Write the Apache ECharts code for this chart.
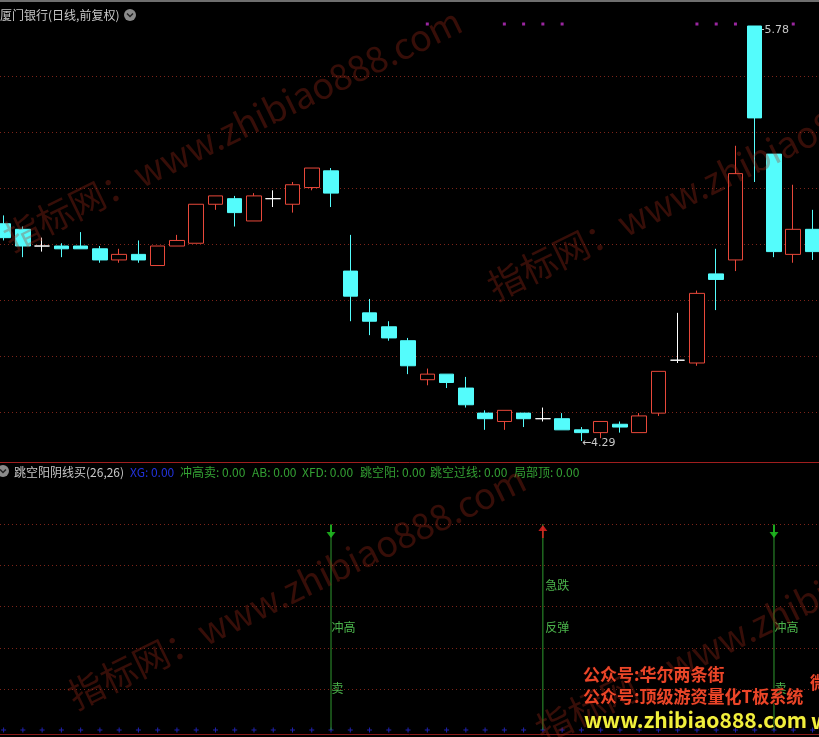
<!DOCTYPE html>
<html><head><meta charset="utf-8">
<script src="https://cdn.jsdelivr.net/npm/echarts@6/dist/echarts.min.js"></script>
<style>html,body{margin:0;padding:0;background:#000;}#c{width:819px;height:737px;}</style>
</head><body><div id="c"></div>
<script>
// ---- data ----
const categories = Array.from({length: 43}, (_, i) => 'D' + (i + 1));
const openP  = [5.07,5.05,4.99,4.99,4.99,4.98,4.94,4.96,4.92,4.99,5.00,5.14,5.16,5.08,5.16,5.14,5.20,5.26,4.90,4.75,4.70,4.65,4.51,4.53,4.48,4.39,4.36,4.39,4.37,4.37,4.33,4.32,4.35,4.32,4.39,4.58,4.57,4.89,4.94,5.78,5.32,4.96,5.05];
const closeP = [5.02,4.99,4.99,4.98,4.98,4.94,4.96,4.94,4.99,5.01,5.14,5.17,5.11,5.17,5.16,5.21,5.27,5.18,4.81,4.72,4.66,4.56,4.53,4.50,4.42,4.37,4.40,4.37,4.37,4.33,4.32,4.36,4.34,4.38,4.54,4.58,4.82,4.87,5.25,5.45,4.97,5.05,4.97];
const lowP   = [5.01,4.95,4.97,4.95,4.98,4.93,4.93,4.93,4.92,4.99,5.00,5.12,5.06,5.08,5.13,5.11,5.19,5.13,4.72,4.67,4.65,4.53,4.49,4.48,4.41,4.33,4.33,4.34,4.36,4.33,4.29,4.30,4.32,4.32,4.38,4.57,4.56,4.76,4.90,5.22,4.95,4.93,4.94];
const highP  = [5.10,5.06,5.02,5.00,5.04,4.99,4.98,5.01,4.99,5.03,5.14,5.17,5.17,5.18,5.19,5.22,5.27,5.27,5.03,4.80,4.72,4.66,4.55,4.53,4.52,4.40,4.40,4.39,4.41,4.39,4.34,4.36,4.36,4.39,4.54,4.75,4.83,4.98,5.35,5.78,5.32,5.21,5.12];
// purple signal dots along the top of the price panel (1 = shown)
const topDotFlags = [0,0,0,0,0,0,0,0,0,0,0,0,0,0,0,0,0,0,0,0,0,0,1,0,0,0,1,1,1,1,0,0,0,0,0,0,1,1,1,0,0,1,0];
// indicator panel values
const sellDays = [17, 40];          // 冲高卖
const buyDays = [28];               // 急跌反弹
const arrowLevel = 5;
const chongGaoLevel = 2.5, maiLevel = 1, jiDieLevel = 3.5, fanTanLevel = 2.5;
const headerItems = [
  ['跳空阳阴线买(26,26)', '#c8c8c8'], ['XG: 0.00', '#2233dd'], ['冲高卖: 0.00', '#33a033'],
  ['AB: 0.00', '#33a033'], ['XFD: 0.00', '#33a033'], ['跳空阳: 0.00', '#33a033'],
  ['跳空过线: 0.00', '#33a033'], ['局部顶: 0.00', '#33a033']
];
const headerX = [14, 130, 180, 252, 302, 360, 430, 514];

// ---- build ----
const ohlc = openP.map((o, i) => [o, closeP[i], lowP[i], highP[i]]);
const pick = (days, v) => categories.map((_, i) => days.includes(i) ? v : '-');
const allSignal = sellDays.concat(buyDays);

const chart = echarts.init(document.getElementById('c'), null, {renderer: 'canvas'});
const dotted = {show: true, lineStyle: {color: '#7c2419', type: [1, 3], width: 1}};
const hiddenAxisParts = {axisLine: {show: false}, axisTick: {show: false}, axisLabel: {show: false}};
const txtLabel = (t) => ({show: true, position: 'right', distance: 0, formatter: t, color: '#5ee05e',
  fontSize: 12, fontFamily: 'Noto Sans CJK SC'});

const wmStyle = (t) => ({text: t, fill: 'rgba(170,45,25,0.32)', font: '36px "Noto Sans CJK SC"',
  textAlign: 'left', textVerticalAlign: 'bottom'});
const ang = 0.455;

const graphics = [
  {type: 'line', shape: {x1: 0, y1: 1, x2: 819, y2: 1}, style: {stroke: '#6e6e6e', lineWidth: 2}, z: 100},
  {type: 'line', shape: {x1: 0, y1: 462.5, x2: 819, y2: 462.5}, style: {stroke: '#a01e1e', lineWidth: 1}, z: 100},
  {type: 'line', shape: {x1: 0, y1: 734.5, x2: 819, y2: 734.5}, style: {stroke: '#8c1a1a', lineWidth: 1}, z: 100},
  {type: 'text', x: 0, y: 15, style: {text: '厦门银行(日线,前复权)', fill: '#c8c8c8', font: '12px "Noto Sans CJK SC"', textVerticalAlign: 'middle'}, z: 100},
  {type: 'circle', shape: {cx: 130, cy: 15, r: 6}, style: {fill: '#8a8a8a'}, z: 100},
  {type: 'polyline', shape: {points: [[127, 13.5], [130, 16.5], [133, 13.5]]}, style: {stroke: '#222', lineWidth: 1.5, fill: null}, z: 101},
  {type: 'circle', shape: {cx: 3, cy: 471, r: 6}, style: {fill: '#8a8a8a'}, z: 100},
  {type: 'polyline', shape: {points: [[0, 469.5], [3, 472.5], [6, 469.5]]}, style: {stroke: '#222', lineWidth: 1.5, fill: null}, z: 101},
];
headerItems.forEach((h, k) => graphics.push({type: 'text', x: headerX[k], y: 472,
  style: {text: h[0], fill: h[1], font: '12px "Noto Sans CJK SC"', textVerticalAlign: 'middle'}, z: 100}));
// diagonal watermarks
[[14, 256], [498, 305], [78, 714], [546, 748]].forEach(p => graphics.push({type: 'text', x: p[0], y: p[1],
  rotation: ang, style: wmStyle('指标网：www.zhibiao888.com'), z: 200, silent: true}));
// overlay promo text
const promo = (t, x, y, c, s) => ({type: 'text', x: x, y: y, style: {text: t, fill: c, font: 'bold ' + s + 'px "Noto Sans CJK SC"',
  textVerticalAlign: 'middle', stroke: '#1a0000', lineWidth: 1}, z: 300});
graphics.push(promo('公众号:华尔两条街', 583, 675, '#eb4628', 17));
graphics.push(promo('公众号:顶级游资量化T板系统', 583, 697, '#eb4628', 17));
graphics.push(promo('www.zhibiao888.com', 584, 720, '#f0f03c', 21));
graphics.push(promo('微', 810, 683, '#eb4628', 17));
graphics.push(promo('w', 811, 721, '#f0f03c', 21));

const gridL = 3.6, gridR = 819 - 812.5;
const option = {
  backgroundColor: '#000000',
  animation: false,
  grid: [
    {left: gridL, right: gridR, top: 10, height: 452},
    {left: 0, right: 0, top: 76, height: 336},
    {left: gridL, right: gridR, top: 730 - 5.5 * 41.2, height: 5.5 * 41.2},
    {left: 0, right: 0, top: 524, height: 165}
  ],
  xAxis: [
    {gridIndex: 0, type: 'category', data: categories, boundaryGap: false, show: false},
    {gridIndex: 1, type: 'value', min: 0, max: 1, show: false},
    {gridIndex: 2, type: 'category', data: categories, boundaryGap: false, show: false},
    {gridIndex: 3, type: 'value', min: 0, max: 1, show: false}
  ],
  yAxis: [
    {gridIndex: 0, type: 'value', min: 4.2145, max: 5.8375, show: false},
    {gridIndex: 0, type: 'value', min: 0, max: 1, show: false},
    Object.assign({gridIndex: 1, type: 'value', min: 0, max: 6, interval: 1, splitLine: dotted}, hiddenAxisParts),
    {gridIndex: 2, type: 'value', min: 0, max: 5.5, show: false},
    Object.assign({gridIndex: 3, type: 'value', min: 0, max: 4, interval: 1, splitLine: dotted}, hiddenAxisParts)
  ],
  series: [
    {type: 'candlestick', xAxisIndex: 0, yAxisIndex: 0, data: ohlc, barWidth: 15, z: 5, clip: false,
      itemStyle: {color: '#000000', color0: '#54fcfc', borderColor: '#e8483a', borderColor0: '#54fcfc',
        borderColorDoji: '#ffffff', borderWidth: 1},
      markPoint: {symbol: 'circle', symbolSize: 1, itemStyle: {color: 'rgba(0,0,0,0)'},
        label: {show: true, position: 'right', distance: 0, color: '#c8c8c8', fontSize: 11, fontFamily: 'DejaVu Sans',
          formatter: p => '\u2190' + p.value.toFixed(2)},
        data: [
          {type: 'max', valueDim: 'highest', label: {offset: [0, 4]}},
          {type: 'min', valueDim: 'lowest', label: {offset: [0, 2]}}
        ]}
    },
    {type: 'scatter', xAxisIndex: 0, yAxisIndex: 1, symbol: 'rect', symbolSize: 3, clip: false,
      itemStyle: {color: '#c030c8'}, data: topDotFlags.map(f => f ? 0.969 : '-'), silent: true},
    {type: 'bar', xAxisIndex: 2, yAxisIndex: 3, barWidth: 1, itemStyle: {color: '#2f9a2f'},
      data: pick(allSignal, arrowLevel), silent: true},
    {type: 'scatter', xAxisIndex: 2, yAxisIndex: 3, symbol: 'path://M4,0 L6,0 L6,7 L10,7 L5,13 L0,7 L4,7 Z',
      symbolSize: [9, 13], symbolOffset: [0, 7.5], itemStyle: {color: '#22cc22'}, data: pick(sellDays, arrowLevel), z: 4},
    {type: 'scatter', xAxisIndex: 2, yAxisIndex: 3, symbol: 'path://M5,0 L10,6 L6,6 L6,13 L4,13 L4,6 L0,6 Z',
      symbolSize: [9, 13], symbolOffset: [0, 7.5], itemStyle: {color: '#ee2222'}, data: pick(buyDays, arrowLevel), z: 4},
    {type: 'scatter', xAxisIndex: 2, yAxisIndex: 3, symbolSize: 1, itemStyle: {color: 'rgba(0,0,0,0)'},
      label: txtLabel('冲高'), data: pick(sellDays, chongGaoLevel)},
    {type: 'scatter', xAxisIndex: 2, yAxisIndex: 3, symbolSize: 1, itemStyle: {color: 'rgba(0,0,0,0)'},
      label: txtLabel('卖'), data: pick(sellDays, maiLevel)},
    {type: 'scatter', xAxisIndex: 2, yAxisIndex: 3, symbolSize: 1, itemStyle: {color: 'rgba(0,0,0,0)'},
      label: Object.assign(txtLabel('急跌'), {distance: 2}), data: pick(buyDays, jiDieLevel)},
    {type: 'scatter', xAxisIndex: 2, yAxisIndex: 3, symbolSize: 1, itemStyle: {color: 'rgba(0,0,0,0)'},
      label: Object.assign(txtLabel('反弹'), {distance: 2}), data: pick(buyDays, fanTanLevel)},
    {type: 'scatter', xAxisIndex: 2, yAxisIndex: 3, clip: false,
      symbol: 'path://M2,0 L3,0 L3,2 L5,2 L5,3 L3,3 L3,5 L2,5 L2,3 L0,3 L0,2 L2,2 Z', symbolSize: 5,
      itemStyle: {color: '#2a2ad8'}, data: categories.map(() => 0), silent: true, z: 1}
  ],
  graphic: graphics
};
chart.setOption(option);
</script></body></html>
